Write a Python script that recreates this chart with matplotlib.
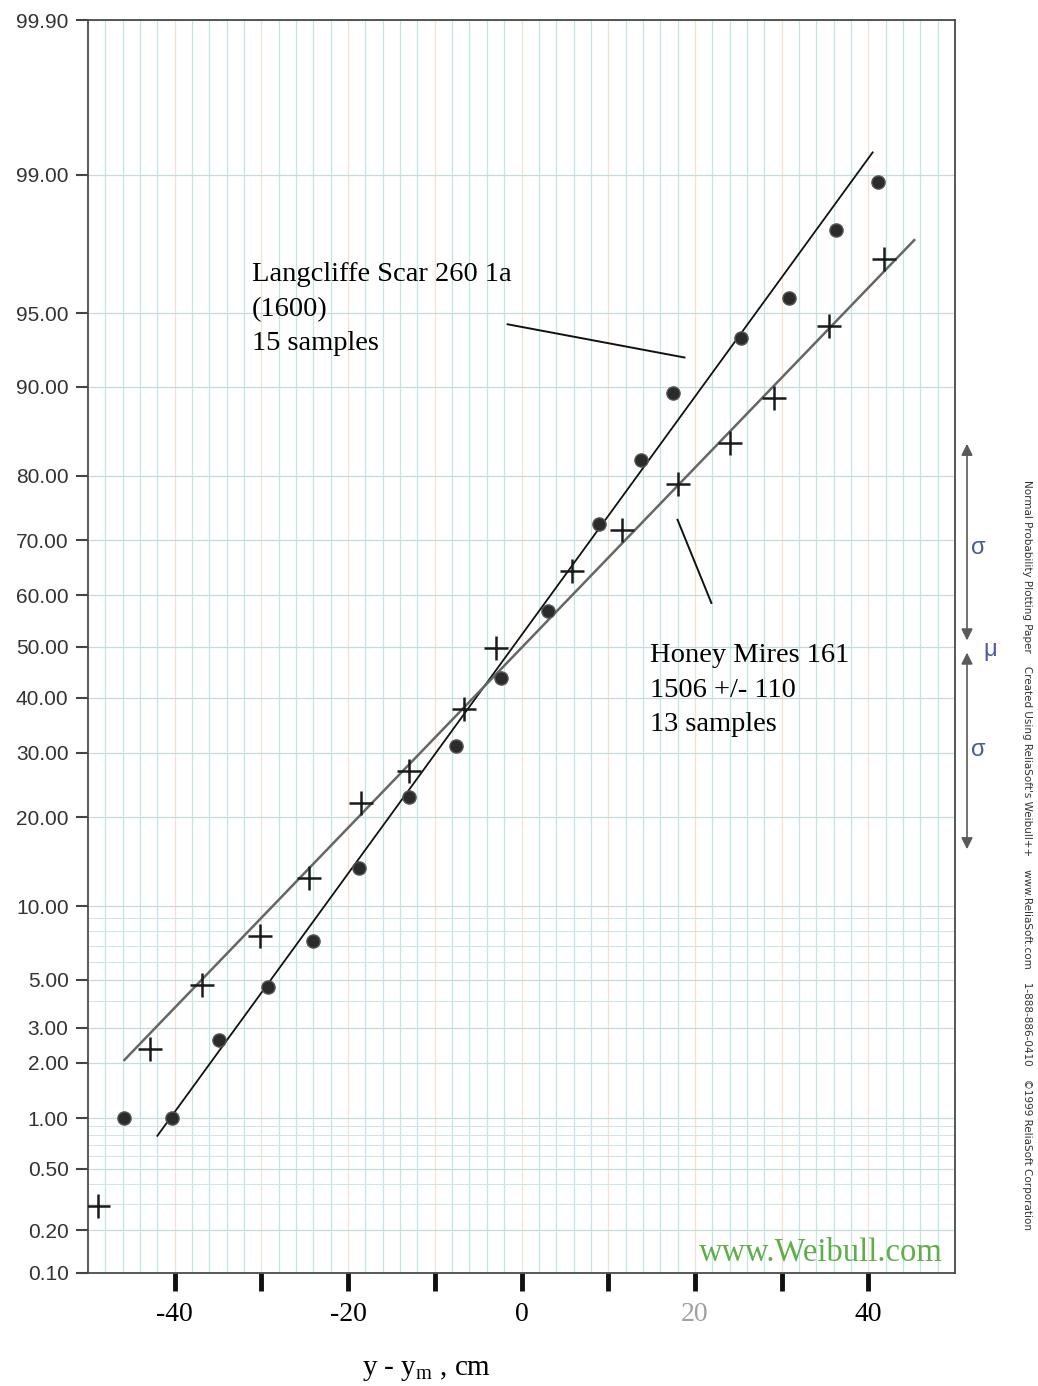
import math
import numpy as np
import matplotlib
matplotlib.use('Agg')
import matplotlib.pyplot as plt
import matplotlib.transforms as mtransforms

plt.rcParams['mathtext.fontset'] = 'custom'
plt.rcParams['mathtext.rm'] = 'Liberation Serif'
plt.rcParams['mathtext.it'] = 'Liberation Serif:italic'

# Langcliffe Scar 260 1a  (dots)
lang_x = [-45.8, -40.3, -34.9, -29.2, -24.0, -18.8, -13.0, -7.5, -2.4, 3.0,
          8.9, 13.8, 17.5, 25.3, 30.8, 36.3, 41.1]
lang_p = [1.0, 1.0, 2.6, 4.65, 7.3, 13.7, 22.9, 31.2, 43.8, 56.9,
          72.7, 82.1, 89.4, 93.6, 95.7, 98.0, 98.9]
lang_fit_x = [-42.0, 40.5]
lang_fit_p = [0.79, 99.26]

# Honey Mires 161  (crosses)
honey_x = [-48.9, -42.9, -36.9, -30.2, -24.5, -18.5, -13.0, -6.6, -2.9, 5.8,
           11.6, 18.0, 24.1, 29.1, 35.5, 41.8]
honey_p = [0.29, 2.35, 4.75, 7.66, 12.7, 22.0, 27.0, 37.9, 49.7, 64.5,
           71.7, 78.9, 84.2, 89.0, 94.3, 97.2]
honey_fit_x = [-45.8, 45.3]
honey_fit_p = [2.07, 97.75]

# leader lines for the labels
lang_lead_x = [-1.6, 18.8]
lang_lead_p = [94.4, 92.3]
honey_lead_x = [18.0, 21.9]
honey_lead_p = [73.4, 58.5]

y_ticks = [0.1, 0.2, 0.5, 1, 2, 3, 5, 10, 20, 30, 40, 50, 60, 70, 80, 90, 95, 99, 99.9]
y_minor = [0.3, 0.4, 0.6, 0.7, 0.8, 0.9, 4, 6, 7, 8, 9]
x_labels = [-40, -20, 0, 20, 40]
x_marks = [-40, -30, -20, -10, 0, 10, 20, 30, 40]


# normal probability scale (percent -> z) without scipy
A = [-3.969683028665376e+01, 2.209460984245205e+02, -2.759285104469687e+02,
     1.383577518672690e+02, -3.066479806614716e+01, 2.506628277459239e+00]
B = [-5.447609879822406e+01, 1.615858368580409e+02, -1.556989798598866e+02,
     6.680131188771972e+01, -1.328068155288572e+01]
C = [-7.784894002430293e-03, -3.223964580411365e-01, -2.400758277161838e+00,
     -2.549671154476826e+00, 4.374664141464968e+00, 2.938163982698783e+00]
D = [7.784695709041462e-03, 3.224671290700398e-01, 2.445134137142996e+00,
     3.754408661907416e+00]


def ppf(p):
    p = np.clip(np.asarray(p, dtype=float), 1e-12, 1 - 1e-12)
    with np.errstate(all='ignore'):
        q = p - 0.5
        r = q * q
        mid = (((((A[0]*r+A[1])*r+A[2])*r+A[3])*r+A[4])*r+A[5])*q / \
              (((((B[0]*r+B[1])*r+B[2])*r+B[3])*r+B[4])*r+1)
        ql = np.sqrt(-2*np.log(p))
        low = (((((C[0]*ql+C[1])*ql+C[2])*ql+C[3])*ql+C[4])*ql+C[5]) / \
              ((((D[0]*ql+D[1])*ql+D[2])*ql+D[3])*ql+1)
        qh = np.sqrt(-2*np.log(1-p))
        high = -(((((C[0]*qh+C[1])*qh+C[2])*qh+C[3])*qh+C[4])*qh+C[5]) / \
               ((((D[0]*qh+D[1])*qh+D[2])*qh+D[3])*qh+1)
    return np.where(p < 0.02425, low, np.where(p > 1 - 0.02425, high, mid))


_erf = np.vectorize(math.erf)


def fwd(pct):
    return ppf(np.asarray(pct, dtype=float) / 100.0)


def inv(z):
    z = np.asarray(z, dtype=float)
    return 50.0 * (1 + _erf(z / math.sqrt(2)))


fig = plt.figure(figsize=(10.38, 13.86), dpi=100)
ax = fig.add_axes([88/1038, 1 - 1273/1386, (955-88)/1038, (1273-20)/1386])
ax.set_yscale('function', functions=(fwd, inv))
ax.set_xlim(-50, 50)
ax.set_ylim(0.1, 99.9)

# graph paper
for gx in np.arange(-48, 50, 2):
    c = '#f3e2d2' if gx % 10 == 0 else '#c2e6e6'
    ax.axvline(gx, color=c, lw=0.9, zorder=0)
ax.set_yticks(y_ticks)
ax.set_yticks(y_minor, minor=True)
ax.set_yticklabels(['%.2f' % v for v in y_ticks])
ax.yaxis.grid(True, which='major', color='#c8dada', lw=0.9, zorder=0)
ax.yaxis.grid(True, which='minor', color='#d3e4e4', lw=0.8, zorder=0)
ax.set_axisbelow(True)
ax.tick_params(axis='y', which='major', length=9, width=1.5, color='#444', pad=5,
               labelsize=15, labelcolor='#333')
ax.tick_params(axis='y', which='minor', length=0)
for lab in ax.get_yticklabels():
    lab.set_family('Liberation Sans')

ax.set_xticks(x_labels)
ax.set_xticks([m for m in x_marks if m not in x_labels], minor=True)
ax.set_xticklabels([str(v) for v in x_labels], family='Liberation Serif', fontsize=20)
ax.get_xticklabels()[3].set_color('#a0a0a0')
ax.tick_params(axis='x', which='both', length=13, width=3.5, color='#111', direction='out', pad=8)

for s in ax.spines.values():
    s.set_color('#4a4a4a')
    s.set_linewidth(1.3)

# data
ax.plot(lang_fit_x, lang_fit_p, color='#111', lw=1.3, zorder=3)
ax.plot(honey_fit_x, honey_fit_p, color='#666', lw=1.8, zorder=3)
ax.plot(lang_x, lang_p, 'o', ms=9.5, color='#2b2b2b', mec='#555', mew=1, zorder=4)
ax.plot(honey_x, honey_p, '+', ms=17, color='#1a1a1a', mew=1.8, zorder=4)

ax.plot(lang_lead_x, lang_lead_p, color='#111', lw=1.4, zorder=3)
ax.plot(honey_lead_x, honey_lead_p, color='#111', lw=1.4, zorder=3)

ax.text(-31.1, 97.1, 'Langcliffe Scar 260 1a\n(1600)\n15 samples', family='Liberation Serif',
        fontsize=20.5, va='top', ha='left', linespacing=1.5, zorder=5)
ax.text(14.8, 50.6, 'Honey Mires 161\n1506 +/- 110\n13 samples', family='Liberation Serif',
        fontsize=20.5, va='top', ha='left', linespacing=1.5, zorder=5)

ax.text(0.986, 0.004, 'www.Weibull.com', transform=ax.transAxes, family='Liberation Serif',
        fontsize=23.5, color='#5fae4a', ha='right', va='bottom', zorder=5)

# mu / sigma markers at the right of the paper
trans = mtransforms.blended_transform_factory(fig.transFigure, ax.transData)
ax_x = 967 / 1038
arr = dict(arrowstyle='<|-|>', color='#5a5a5a', lw=1.2, mutation_scale=17, shrinkA=0, shrinkB=0)
ax.annotate('', xy=(ax_x, 84.13), xytext=(ax_x, 51.2), xycoords=trans, textcoords=trans,
            arrowprops=arr, annotation_clip=False)
ax.annotate('', xy=(ax_x, 15.87), xytext=(ax_x, 48.8), xycoords=trans, textcoords=trans,
            arrowprops=arr, annotation_clip=False)
ax.text(978/1038, 68.6, 'σ', transform=trans, fontsize=17, color='#4a5a9a',
        family='Liberation Sans', ha='center', va='center', clip_on=False)
ax.text(990/1038, 49.3, 'μ', transform=trans, fontsize=17, color='#4a5a9a',
        family='Liberation Sans', ha='center', va='center', clip_on=False)
ax.text(978/1038, 30.5, 'σ', transform=trans, fontsize=17, color='#4a5a9a',
        family='Liberation Sans', ha='center', va='center', clip_on=False)

fig.text(1027/1038, 1 - 480/1386,
         "Normal Probability Plotting Paper    Created Using ReliaSoft's Weibull++    "
         "www.ReliaSoft.com    1-888-886-0410    \u00a91999 ReliaSoft Corporation",
         rotation=270, ha='center', va='top', fontsize=7.5, color='#333',
         family='Liberation Sans Narrow')

fig.text(427/1038, 1 - 1370/1386, r'y - y$_{\mathrm{m}}$ , cm', family='Liberation Serif',
         fontsize=21, ha='center', va='center')

fig.savefig('out.png', dpi=100, facecolor='white')
